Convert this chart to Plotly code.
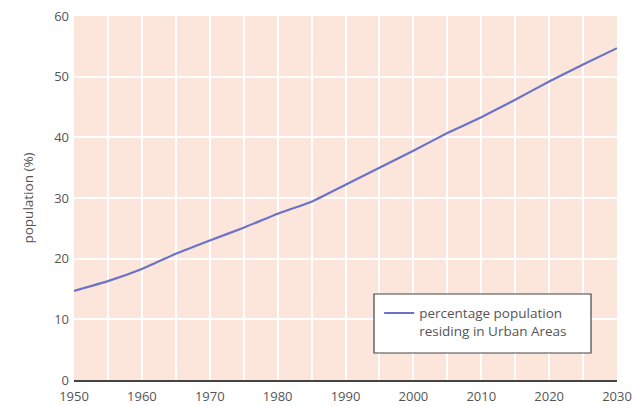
import plotly.graph_objects as go

years = [1950, 1955, 1960, 1965, 1970, 1975, 1980, 1985, 1990, 1995,
         2000, 2005, 2010, 2015, 2020, 2025, 2030]
urban_pct = [14.7, 16.3, 18.3, 20.8, 23.0, 25.1, 27.4, 29.4, 32.2, 35.0,
             37.8, 40.7, 43.3, 46.2, 49.2, 52.0, 54.7]
x_ticks = [1950, 1960, 1970, 1980, 1990, 2000, 2010, 2020, 2030]
y_ticks = [0, 10, 20, 30, 40, 50, 60]
series_name = "percentage population<br>residing in Urban Areas"

FONT = "Open Sans"
TXT = "#555555"

fig = go.Figure()
fig.add_trace(go.Scatter(
    x=years, y=urban_pct, mode="lines", name=series_name,
    line=dict(color="#6b73c9", width=2.2, shape="spline", smoothing=0.4),
    showlegend=True,
))

fig.update_layout(
    width=633, height=406,
    margin=dict(l=74, r=16, t=16, b=26),
    paper_bgcolor="white",
    plot_bgcolor="#fce6dc",
    font=dict(family=FONT, size=13, color=TXT),
    showlegend=True,
    legend=dict(
        x=0.562, y=0.226, xanchor="left", yanchor="top",
        bgcolor="rgba(0,0,0,0)", borderwidth=0,
        font=dict(family=FONT, size=13.5, color=TXT),
        valign="top", tracegroupgap=0, itemwidth=30,
    ),
    shapes=[dict(
        type="rect", xref="paper", yref="paper",
        x0=(374 - 74) / 543, x1=(591 - 74) / 543,
        y0=(380 - 353) / 364, y1=(380 - 294) / 364,
        line=dict(color="#444444", width=1.2),
        fillcolor="white", layer="above",
    )],
)

fig.update_xaxes(
    range=[1950, 2030], tickvals=x_ticks, automargin=False,
    showgrid=True, gridcolor="white", gridwidth=1.5,
    minor=dict(dtick=5, tick0=1950, showgrid=True, gridcolor="white", gridwidth=1.5),
    showline=True, linecolor="#444444", linewidth=1.5,
    zeroline=False, ticks="", ticklabelstandoff=4, ticklabeloverflow="allow",
    tickfont=dict(family=FONT, size=13, color=TXT),
)
fig.update_yaxes(
    range=[0, 60], tickvals=y_ticks, automargin=False,
    showgrid=True, gridcolor="white", gridwidth=1.5,
    showline=False, zeroline=False, ticks="",
    ticklabelstandoff=4,
    tickfont=dict(family=FONT, size=13, color=TXT),
    title=dict(text="population (%)", font=dict(family=FONT, size=13.5, color=TXT), standoff=17),
)

fig.write_html("out.html", config={"displayModeBar": False},
               post_script="document.body.style.margin='0';")
